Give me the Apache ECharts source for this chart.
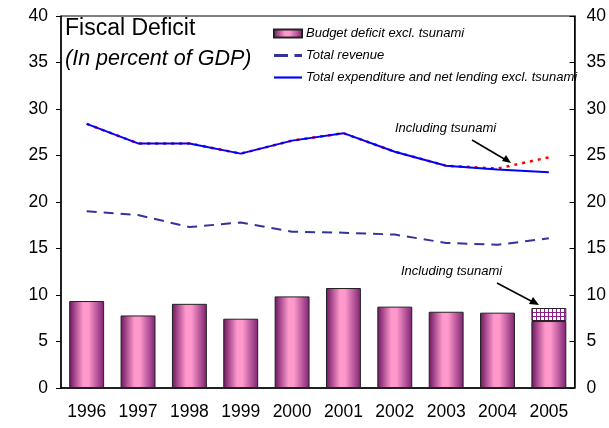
<!DOCTYPE html>
<html>
<head>
<meta charset="utf-8">
<script src="https://cdn.jsdelivr.net/npm/echarts@6/dist/echarts.min.js"></script>
<style>
html,body{margin:0;padding:0;background:#fff;}
#main{width:609px;height:428px;}
</style>
</head>
<body>
<div id="main"></div>
<script type="text/javascript">
var years = ['1996','1997','1998','1999','2000','2001','2002','2003','2004','2005'];
var deficitExcl = [9.35, 7.8, 9.05, 7.45, 9.85, 10.75, 8.75, 8.2, 8.1, 7.2];
var deficitTsunami = ['-', '-', '-', '-', '-', '-', '-', '-', '-', 1.4];
var revenue = [19.0, 18.6, 17.3, 17.8, 16.8, 16.7, 16.5, 15.6, 15.4, 16.1];
var expenditure = [28.4, 26.3, 26.3, 25.2, 26.6, 27.4, 25.4, 23.9, 23.5, 23.2];
var expenditureTsunami = [28.4, 26.3, 26.3, 25.2, 26.6, 27.4, 25.4, 23.9, 23.6, 24.8];

// 紫白格子图案
var pat = document.createElement('canvas');
pat.width = 4; pat.height = 4;
var pc = pat.getContext('2d');
pc.fillStyle = '#ffffff'; pc.fillRect(0, 0, 4, 4);
pc.fillStyle = '#8a1f8a'; pc.fillRect(0, 0, 4, 1); pc.fillRect(0, 0, 1, 4);

var barGrad = new echarts.graphic.LinearGradient(0, 0, 1, 0, [
	{offset: 0, color: '#6b1461'},
	{offset: 0.4, color: '#ff99cc'},
	{offset: 0.55, color: '#ff99cc'},
	{offset: 1, color: '#7d2173'}
]);

var myChart = echarts.init(document.getElementById('main'));
var font = 'Liberation Sans, Arial, sans-serif';

var option = {
	animation: false,
	grid: {left: 61, right: 33, top: 16, bottom: 40, show: true, borderColor: '#000', borderWidth: 1},
	legend: {
		data: [
			{name: 'Budget deficit excl. tsunami', icon: 'rect'},
			{name: 'Total revenue', icon: 'path://M0,0H13V3H0Z M19,0H26V3H19Z'},
			{name: 'Total expenditure and net lending excl. tsunami', icon: 'path://M0,0H26V2H0Z'}
		],
		orient: 'vertical',
		left: 268, top: 22,
		itemWidth: 28, itemHeight: 8, itemGap: 9,
		textStyle: {fontStyle: 'italic', fontSize: 13, fontFamily: font, color: '#000', padding: [0, 0, 0, -1]}
	},
	xAxis: {
		type: 'category',
		data: years,
		axisLine: {lineStyle: {color: '#000', width: 1.5}},
		axisTick: {inside: true, length: 5, lineStyle: {color: '#000'}},
		axisLabel: {color: '#000', fontSize: 17.5, fontFamily: font, margin: 15}
	},
	yAxis: [{
		type: 'value', min: 0, max: 40, interval: 5,
		splitLine: {show: false},
		axisLine: {show: true, lineStyle: {color: '#000', width: 1.5}},
		axisTick: {show: true, length: 5, lineStyle: {color: '#000'}},
		axisLabel: {color: '#000', fontSize: 17.5, fontFamily: font, margin: 13}
	}, {
		type: 'value', min: 0, max: 40, interval: 5, position: 'right',
		splitLine: {show: false},
		axisLine: {show: true, lineStyle: {color: '#000', width: 1.5}},
		axisTick: {show: true, inside: true, length: 5, lineStyle: {color: '#000'}},
		axisLabel: {color: '#000', fontSize: 17.5, fontFamily: font, margin: 12}
	}],
	series: [{
		name: 'Budget deficit excl. tsunami',
		type: 'bar', stack: 'd', barWidth: '68%',
		itemStyle: {color: barGrad, borderColor: '#222', borderWidth: 1},
		data: deficitExcl
	}, {
		name: 'Including tsunami bar',
		type: 'bar', stack: 'd',
		itemStyle: {color: {image: pat, repeat: 'repeat'}, borderColor: '#222', borderWidth: 1},
		data: deficitTsunami
	}, {
		name: 'Including tsunami line',
		type: 'line', symbol: 'none',
		lineStyle: {color: '#ff0000', width: 2.5, type: [3, 5]},
		data: expenditureTsunami
	}, {
		name: 'Total expenditure and net lending excl. tsunami',
		type: 'line', symbol: 'none',
		itemStyle: {color: '#0000ff'},
		lineStyle: {color: '#0000ff', width: 2},
		data: expenditure
	}, {
		name: 'Total revenue',
		type: 'line', symbol: 'none',
		itemStyle: {color: '#333399'},
		lineStyle: {color: '#333399', width: 2, type: [10, 7]},
		data: revenue
	}],
	graphic: [
		{type: 'text', left: 65, top: 17, style: {text: 'Fiscal Deficit', font: '23px ' + font, fill: '#000'}},
		{type: 'text', left: 65, top: 48, style: {text: '(In percent of GDP)', font: 'italic 21.5px ' + font, fill: '#000'}},
		{type: 'text', left: 395, top: 122, style: {text: 'Including tsunami', font: 'italic 13px ' + font, fill: '#000'}},
		{type: 'line', shape: {x1: 472, y1: 140, x2: 506, y2: 160}, style: {stroke: '#000', lineWidth: 1.5}},
		{type: 'polygon', shape: {points: [[511, 163], [502, 161], [506, 155]]}, style: {fill: '#000'}},
		{type: 'text', left: 401, top: 265, style: {text: 'Including tsunami', font: 'italic 13px ' + font, fill: '#000'}},
		{type: 'line', shape: {x1: 497, y1: 283, x2: 533, y2: 302}, style: {stroke: '#000', lineWidth: 1.5}},
		{type: 'polygon', shape: {points: [[539, 305], [529, 304], [533, 297]]}, style: {fill: '#000'}}
	]
};
myChart.setOption(option);
</script>
</body>
</html>
